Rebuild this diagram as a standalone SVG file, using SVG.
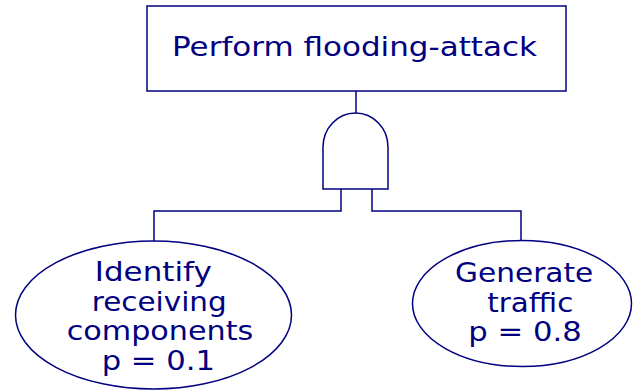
<svg xmlns="http://www.w3.org/2000/svg" width="640" height="391" viewBox="0 0 640 391">
  <style>
    .shape { fill: #ffffff; stroke: #000080; stroke-width: 1.5; }
    .wire { fill: none; stroke: #000080; stroke-width: 1.5; }
    .label { font-family: "DejaVu Sans", Verdana, sans-serif; font-size: 27px; fill: #000080; text-anchor: middle; }
  </style>
  <rect width="640" height="391" fill="#ffffff"/>

  <g id="connectors">
    <line class="wire" x1="356" y1="91" x2="356" y2="113"/>
    <polyline class="wire" points="341,189 341,211 154,211 154,241"/>
    <polyline class="wire" points="372,189 372,211 521,211 521,241"/>
  </g>

  <g id="top-event">
    <rect class="shape" x="147" y="6" width="419" height="85"/>
    <text class="label" x="354.5" y="55.5" textLength="365" lengthAdjust="spacingAndGlyphs">Perform flooding-attack</text>
  </g>

  <g id="and-gate">
    <path class="shape" d="M323,189 L323,147 A32.5,34 0 0 1 388,147 L388,189 Z"/>
  </g>

  <g id="identify-components">
    <ellipse class="shape" cx="153.5" cy="315" rx="138" ry="74"/>
    <text class="label" x="153.3" y="281" textLength="117" lengthAdjust="spacingAndGlyphs">Identify</text>
    <text class="label" x="159.2" y="310.5" textLength="135" lengthAdjust="spacingAndGlyphs">receiving</text>
    <text class="label" x="160" y="340" textLength="186.6" lengthAdjust="spacingAndGlyphs">components</text>
    <text class="label" x="158.3" y="370" textLength="113.3" lengthAdjust="spacingAndGlyphs">p = 0.1</text>
  </g>

  <g id="generate-traffic">
    <ellipse class="shape" cx="522" cy="303.5" rx="109.5" ry="63"/>
    <text class="label" x="524.2" y="282" textLength="138.3" lengthAdjust="spacingAndGlyphs">Generate</text>
    <text class="label" x="530.3" y="311.5" textLength="86" lengthAdjust="spacingAndGlyphs">traffic</text>
    <text class="label" x="525" y="341" textLength="113.3" lengthAdjust="spacingAndGlyphs">p = 0.8</text>
  </g>
</svg>
